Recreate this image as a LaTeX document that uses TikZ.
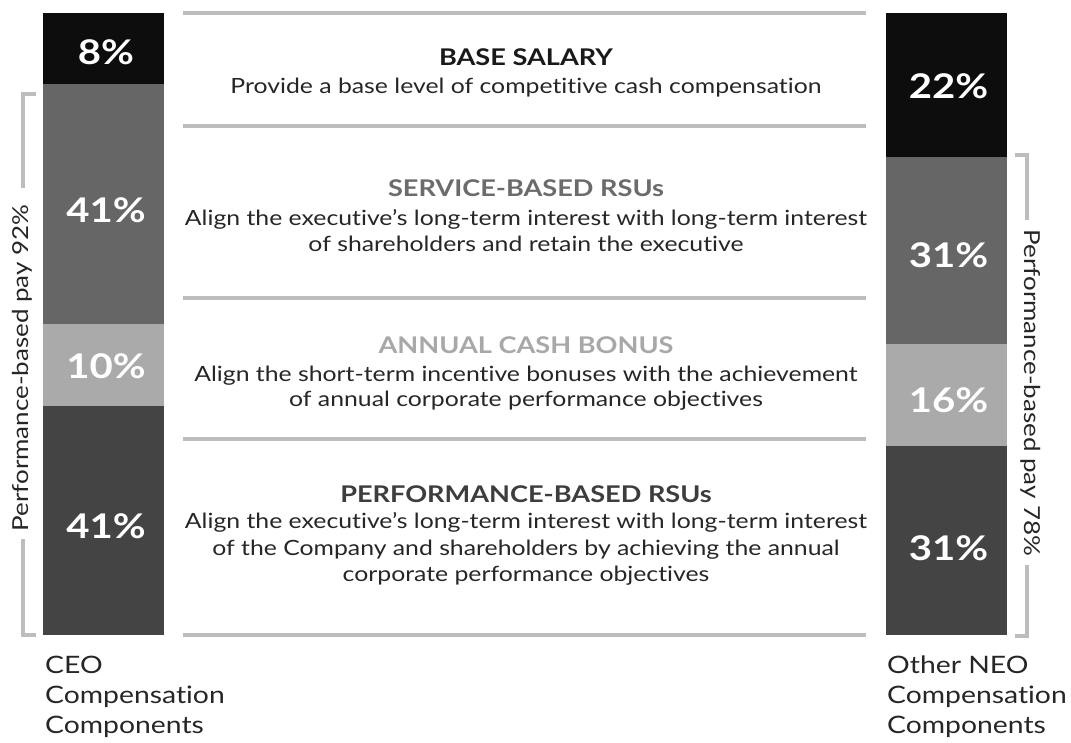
\documentclass[tikz,border=0pt]{standalone}
\usepackage{fontspec}
\setmainfont{Lato}[FakeStretch=1.18,Ligatures=NoCommon]
\definecolor{sepgray}{HTML}{BDBDBD}
\definecolor{cblack}{HTML}{0D0D0D}
\definecolor{cmid}{HTML}{666666}
\definecolor{clight}{HTML}{AAAAAA}
\definecolor{cdark}{HTML}{444444}
\definecolor{bodytxt}{HTML}{262626}
\begin{document}
\begin{tikzpicture}[x=1pt,y=-1pt,
  sepline/.style={draw=sepgray,line width=4pt},
  brk/.style={draw=sepgray,line width=4pt},
  pct/.style={text=white,font=\fontsize{34}{40}\selectfont\bfseries,inner sep=0pt,anchor=base},
  hdr/.style={font=\fontsize{23}{26}\selectfont\bfseries,inner sep=0pt,anchor=base},
  body/.style={text=bodytxt,font=\fontsize{21}{24}\selectfont,inner sep=0pt,anchor=base},
  foot/.style={text=black!85,font=\fontsize{24}{28}\selectfont,inner sep=0pt,anchor=base west},
  side/.style={text=black!85,font=\fontsize{22}{26}\selectfont,inner sep=0pt}
]
\useasboundingbox (0,0) rectangle (1071,742);
% left bar
\fill[cblack] (43,13) rectangle (164,84);
\fill[cmid] (43,84) rectangle (164,324);
\fill[clight] (43,324) rectangle (164,406);
\fill[cdark] (43,406) rectangle (164,635);
% right bar
\fill[cblack] (886,13) rectangle (1007,157);
\fill[cmid] (886,157) rectangle (1007,344);
\fill[clight] (886,344) rectangle (1007,446);
\fill[cdark] (886,446) rectangle (1007,635);
% percentages
\node[pct] (l1) at (106,64) {8\%};
\node[pct] (l2) at (106,222) {41\%};
\node[pct] (l3) at (106,378) {10\%};
\node[pct] (l4) at (106,538) {41\%};
\node[pct] (r1) at (948.5,98) {22\%};
\node[pct] (r2) at (948.5,267) {31\%};
\node[pct] (r3) at (948.5,412) {16\%};
\node[pct] (r4) at (948.5,560) {31\%};
% separators
\coordinate (s1a) at (183,13);  \coordinate (s1b) at (866,13);
\coordinate (s2a) at (183,126); \coordinate (s2b) at (866,126);
\coordinate (s3a) at (183,298); \coordinate (s3b) at (866,298);
\coordinate (s4a) at (183,439); \coordinate (s4b) at (866,439);
\coordinate (s5a) at (183,635); \coordinate (s5b) at (866,635);
\draw[sepline] (s1a) -- (s1b);
\draw[sepline] (s2a) -- (s2b);
\draw[sepline] (s3a) -- (s3b);
\draw[sepline] (s4a) -- (s4b);
\draw[sepline] (s5a) -- (s5b);
% texts
\node[hdr,text=black!90] (h1) at (526,65) {BASE SALARY};
\node[body] (b11) at (526,93) {Provide a base level of competitive cash compensation};
\node[hdr,text=black!58] (h2) at (526,196) {SERVICE-BASED RSUs};
\node[body] (b21) at (526,225) {Align the executive’s long-term interest with long-term interest};
\node[body] (b22) at (526,251) {of shareholders and retain the executive};
\node[hdr,text=black!34] (h3) at (526,353) {ANNUAL CASH BONUS};
\node[body] (b31) at (526,381) {Align the short-term incentive bonuses with the achievement};
\node[body] (b32) at (526,406) {of annual corporate performance objectives};
\node[hdr,text=black!76] (h4) at (526,502) {PERFORMANCE-BASED RSUs};
\node[body] (b41) at (526,528) {Align the executive’s long-term interest with long-term interest};
\node[body] (b42) at (526,555) {of the Company and shareholders by achieving the annual};
\node[body] (b43) at (526,581) {corporate performance objectives};
% brackets
\coordinate (la) at (36,94); \coordinate (lb) at (23,94); \coordinate (lc) at (23,188);
\coordinate (ld) at (23,539); \coordinate (le) at (23,635); \coordinate (lf) at (36,635);
\draw[brk] (la) -- (lb) -- (lc);
\draw[brk] (ld) -- (le) -- (lf);
\node[side,rotate=90] (lt) at (22,368) {Performance-based pay 92\%};
\coordinate (ra) at (1015,155); \coordinate (rb) at (1027,155); \coordinate (rc) at (1027,220);
\coordinate (rd) at (1027,565); \coordinate (re) at (1027,636); \coordinate (rf) at (1015,636);
\draw[brk] (ra) -- (rb) -- (rc);
\draw[brk] (rd) -- (re) -- (rf);
\node[side,rotate=-90] (rt) at (1031,393) {Performance-based pay 78\%};
% footers
\node[foot] (f1) at (45,673) {CEO};
\node[foot] (f2) at (45,703) {Compensation};
\node[foot] (f3) at (45,733) {Components};
\node[foot] (g1) at (887,673) {Other NEO};
\node[foot] (g2) at (887,703) {Compensation};
\node[foot] (g3) at (887,733) {Components};
\end{tikzpicture}
\end{document}
